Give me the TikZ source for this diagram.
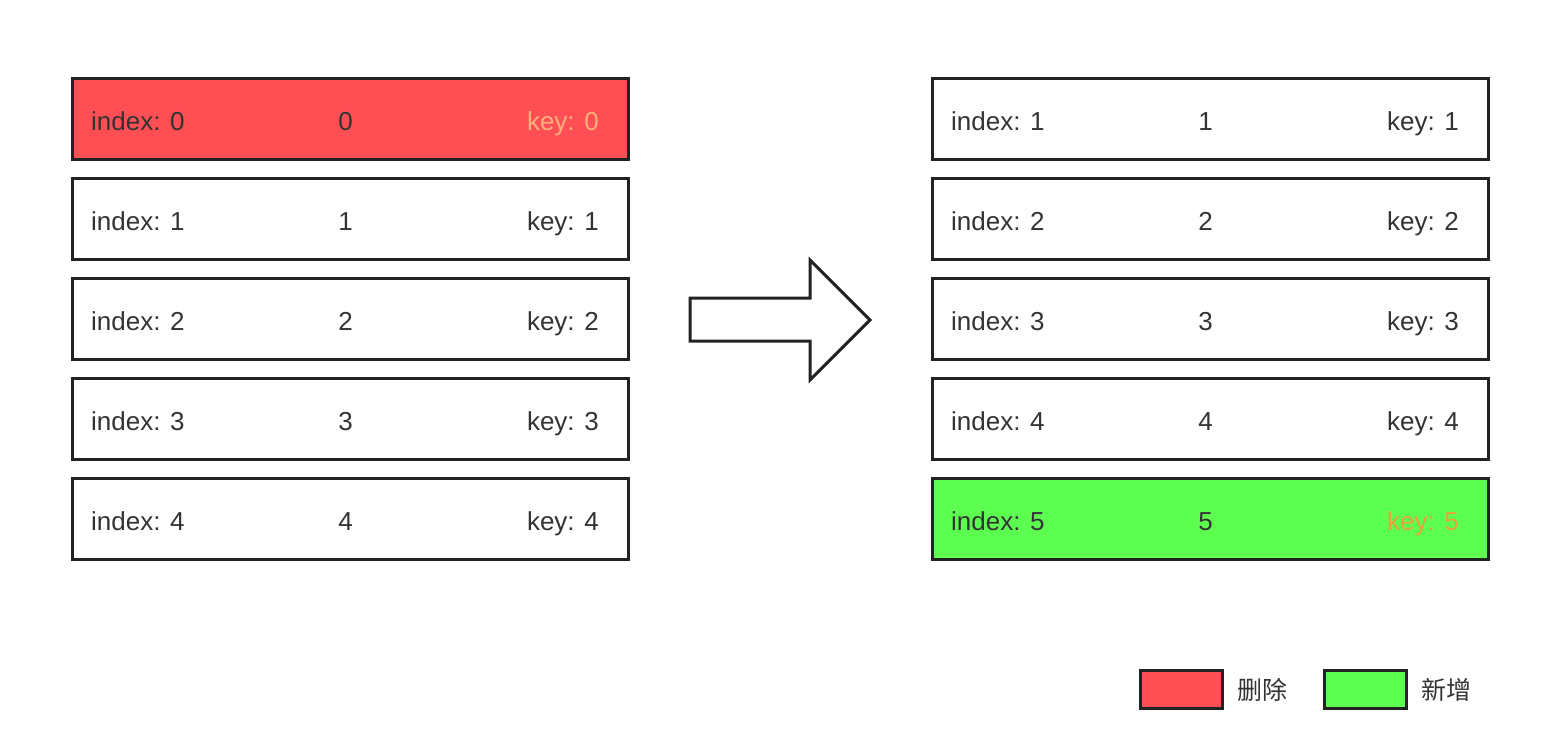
\documentclass[tikz,border=0pt]{standalone}
\usepackage{fontspec}
\setmainfont{Liberation Sans}
\newfontfamily\cjk{Noto Sans CJK SC}
\definecolor{edge}{HTML}{222222}
\definecolor{txt}{HTML}{333333}
\definecolor{delred}{HTML}{FF4F55}
\definecolor{addgreen}{HTML}{5CFF50}
\definecolor{keyred}{HTML}{FFB07A}
\definecolor{keygreen}{HTML}{E8A33A}
\begin{document}
\begin{tikzpicture}[x=1pt,y=-1pt,
  rowbox/.style={draw=edge, line width=3pt, minimum width=556pt, minimum height=81pt, inner sep=0pt, anchor=north west, fill=white},
  lbl/.style={text=txt, font=\fontsize{26}{30}\selectfont, inner sep=0pt, text height=18.7pt, text depth=0pt},
  legbox/.style={draw=edge, line width=3pt, minimum width=82pt, minimum height=38pt, inner sep=0pt, anchor=north west},
  legtext/.style={text=txt, font=\cjk\fontsize{25}{30}\selectfont, inner sep=0pt, anchor=west},
  bigarrow/.style={draw=edge, line width=3pt, fill=white, line join=miter}
]
\useasboundingbox (0,0) rectangle (1552,750);
% left column
\foreach \i in {0,...,4}{
  \pgfmathsetmacro{\yy}{77+100*\i}
  \ifnum\i=0
    \node[rowbox, fill=delred] (L\i) at (71,\yy) {};
  \else
    \node[rowbox] (L\i) at (71,\yy) {};
  \fi
  \node[lbl, anchor=west] (Li\i) at ([xshift=20pt,yshift=-2pt]L\i.west) {index: \i};
  \node[lbl] (Lc\i) at ([xshift=-5pt,yshift=-2pt]L\i.center) {\i};
  \ifnum\i=0
    \node[lbl, anchor=east, text=keyred] (Lk\i) at ([xshift=-31pt,yshift=-2pt]L\i.east) {key: \i};
  \else
    \node[lbl, anchor=east] (Lk\i) at ([xshift=-31pt,yshift=-2pt]L\i.east) {key: \i};
  \fi
}
% right column
\foreach \i in {1,...,5}{
  \pgfmathsetmacro{\yy}{77+100*(\i-1)}
  \ifnum\i=5
    \node[rowbox, fill=addgreen] (R\i) at (931,\yy) {};
  \else
    \node[rowbox] (R\i) at (931,\yy) {};
  \fi
  \node[lbl, anchor=west] (Ri\i) at ([xshift=20pt,yshift=-2pt]R\i.west) {index: \i};
  \node[lbl] (Rc\i) at ([xshift=-5pt,yshift=-2pt]R\i.center) {\i};
  \ifnum\i=5
    \node[lbl, anchor=east, text=keygreen] (Rk\i) at ([xshift=-31pt,yshift=-2pt]R\i.east) {key: \i};
  \else
    \node[lbl, anchor=east] (Rk\i) at ([xshift=-31pt,yshift=-2pt]R\i.east) {key: \i};
  \fi
}
% big arrow
\draw[bigarrow] (690,298) -- (810,298) -- (810,260) -- (870,320) -- (810,380) -- (810,341) -- (690,341) -- cycle;
% legend
\node[legbox, fill=delred] (legdel) at (1139,669) {};
\node[legtext] (legdeltxt) at ([xshift=13pt]legdel.east) {删除};
\node[legbox, fill=addgreen] (legadd) at (1323,669) {};
\node[legtext] (legaddtxt) at ([xshift=13pt]legadd.east) {新增};
\end{tikzpicture}
\end{document}
